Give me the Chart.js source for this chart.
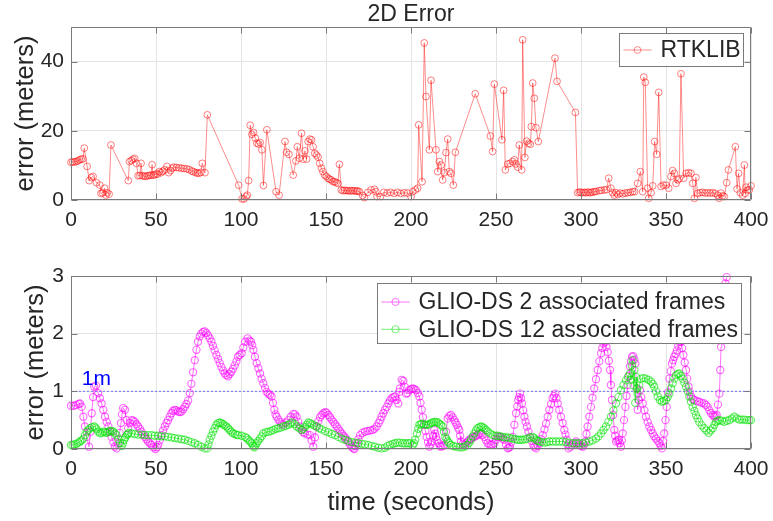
<!DOCTYPE html>
<html>
<head>
<meta charset="utf-8">
<title>2D Error</title>
<script src="https://cdn.jsdelivr.net/npm/chart.js@4.4.1/dist/chart.umd.min.js"></script>
<style>
  html, body { margin: 0; padding: 0; background: #fff; }
  #wrap { position: relative; width: 773px; height: 521px; overflow: hidden; }
  #wrap canvas { position: absolute; left: 0; }
  #errTop { top: 0; }
  #errBottom { top: 230px; }
</style>
</head>
<body>
<div id="wrap">
  <canvas id="errTop" width="773" height="230"></canvas>
  <canvas id="errBottom" width="773" height="291"></canvas>
</div>
<script>
const FONT = '"Liberation Sans", Arial, Helvetica, sans-serif';
const TEXT = '#262626';

// axis ticks
const timeTicks = [0, 50, 100, 150, 200, 250, 300, 350, 400];
const rtkTicks = [0, 20, 40];
const glioTicks = [0, 1, 2, 3];

// 1 m reference line and its label position [time, error]
const oneMeter = 1;
const oneMeterLabelAt = [6.3, 1.11];

// RTKLIB 2D error, [time s, error m]
const rtklib = [
  [0,10.9],[1,11.0],[2,11.0],[3,11.1],[4,11.3],[5,11.6],[6,11.8],[7,11.9],[7.8,15.0],[9.5,9.7],
  [10.7,5.6],[12,6.5],[13,6.8],[15,5.0],[17,4.3],[17.6,1.9],[18.5,2.1],[19.8,3.4],[20.5,1.4],[21.3,2.1],
  [22.4,1.7],[23.5,15.9],[33.7,5.6],[34.4,11.1],[35.5,11.4],[36.5,11.8],[37.5,12.0],[38.5,10.6],[39.5,7.0],[40.5,7.1],
  [41.2,10.6],[42,7.0],[43,6.9],[44,6.8],[45,7.0],[46,7.1],[47,7.2],[47.7,10.2],[48.3,7.1],[49,7.3],
  [50,7.5],[51,7.5],[52,8.2],[53,7.9],[54,8.3],[55,8.7],[56.4,9.7],[57.5,7.9],[58.5,8.5],[59.5,9.2],
  [60.5,9.5],[62,9.4],[63.5,9.3],[65,9.2],[66.5,9.1],[68,9.0],[69.5,8.8],[71,8.4],[72,8.2],[73.3,7.9],
  [74.3,7.8],[75.3,7.7],[76.3,8.0],[77.2,10.6],[78.8,7.9],[80.2,24.6],[98.6,4.3],[100.6,0.3],[101.8,0.3],[103,1.0],
  [103.7,1.4],[104.5,5.6],[105.4,21.6],[106.4,19.0],[107.4,19.5],[108.4,17.9],[109.3,16.4],[110.3,16.2],[111.3,16.6],[112.3,14.5],
  [113.2,4.2],[115.2,20.3],[120.6,2.4],[122.4,1.4],[125.9,16.9],[126.8,13.8],[128.2,13.2],[130.7,7.2],[132.3,11.3],[133.1,15.4],
  [134.3,12.1],[135.6,19.3],[136.6,11.8],[137.6,14.2],[138.6,11.8],[139.5,16.9],[140.5,17.6],[141.5,17.4],[142.4,15.4],[143.4,13.5],
  [144.4,13.0],[145.3,12.4],[146.3,10.6],[147.3,9.2],[148.2,8.2],[149.2,7.2],[150.2,6.8],[151.2,6.3],[152.1,6.0],[153.1,5.8],
  [154.1,5.3],[155.1,5.3],[156,5.0],[157,4.8],[157.9,10.3],[159,2.9],[160,2.7],[161,2.8],[162,2.7],[163,2.7],
  [164,2.6],[165,2.7],[166,2.7],[167,2.6],[168,2.6],[168.7,2.6],[169.7,2.4],[171.6,1.3],[172.6,0.7],[174.6,2.2],
  [176.5,2.9],[178.5,3.1],[179.3,2.4],[180,1.0],[182,1.0],[184,2.2],[186,2.0],[188,2.2],[190,1.9],[192,2.2],
  [194,1.9],[196,2.1],[198,2.0],[200,1.0],[201,2.4],[202.5,2.9],[203.9,3.4],[204.5,21.7],[206.5,5.3],[207.8,45.4],
  [208.8,29.9],[210.8,14.5],[211.8,34.6],[214.7,14.5],[215.7,8.2],[216.7,11.1],[217.7,10.1],[218.6,5.8],[219.6,7.9],[220.6,13.7],
  [221.6,17.6],[222.5,8.2],[223.5,7.7],[224.9,4.3],[226.1,13.8],[237.8,30.7],[246.7,18.5],[248,14.0],[249,33.5],[253.5,17.4],
  [254.5,31.7],[255.5,8.7],[256.9,10.4],[258.3,10.6],[259.8,11.1],[260.8,11.6],[261.8,10.4],[262.7,9.5],[263.7,15.9],[265.1,8.7],
  [265.7,46.3],[267,12.3],[268,17.0],[269.2,16.4],[270.2,16.1],[270.8,21.2],[271.6,33.8],[272.5,29.4],[273.5,20.9],[274.9,16.9],
  [284.7,41.0],[285.9,34.3],[296.7,25.3],[298,2.1],[299,2.3],[300,2.2],[301,2.1],[302,2.2],[303,2.1],[304,2.3],
  [305,2.1],[306,2.2],[307,2.3],[308,2.4],[309,2.5],[310.8,2.7],[312,2.8],[313.7,2.9],[315,3.0],[316.3,6.3],
  [317.6,3.4],[318.6,2.1],[319.6,1.4],[320.6,2.1],[321.6,1.6],[323,2.0],[324.5,1.8],[326,2.0],[327.5,2.1],[329,2.2],
  [330.4,2.4],[331.5,2.4],[333.3,4.8],[334.9,8.2],[336.3,2.4],[336.9,35.5],[337.8,34.0],[339.2,3.4],[339.8,0.5],[341.2,2.1],
  [342.2,4.1],[343.3,16.9],[344.5,13.2],[345.7,31.1],[347.1,3.9],[348.4,4.3],[350,4.3],[351.6,3.4],[352.9,6.8],[353.9,8.5],
  [354.9,7.7],[355.9,4.8],[356.9,5.8],[357.8,6.1],[358.8,36.5],[360.4,6.3],[361.8,7.7],[363.3,7.9],[364.7,7.7],[365.7,4.8],
  [366.7,0.5],[367.6,6.5],[368.6,1.9],[370,2.1],[371.5,2.2],[373,2.0],[374.5,2.1],[376,2.0],[377.5,2.1],[379,1.9],
  [380.4,1.4],[381.3,0.5],[382.3,2.0],[383.3,1.2],[384.3,1.0],[385.7,5.0],[386.7,8.7],[390.8,15.4],[391.8,3.2],[392.7,7.7],
  [393.7,2.1],[395.1,1.4],[396.1,10.1],[396.6,1.9],[397.1,3.7],[398,2.9],[399,2.9],[400,4.1]
];

// GLIO-DS, 2 associated frames
const glio2 = [
  [0,0.75],[1.5,0.75],[3,0.76],[4.5,0.78],[5.3,0.79],[6.3,0.73],[7.3,0.56],[8.2,0.39],[9.2,0.21],[10.6,0.04],
  [11.4,0.3],[12.2,0.62],[13,0.9],[13.7,1.08],[14.7,1.1],[16,0.97],[17,0.88],[18,0.79],[19,0.68],[20,0.56],
  [21,0.47],[22,0.39],[23,0.3],[23.9,0.21],[24.9,0.12],[25.8,0.04],[26.8,0.01],[27.8,0.1],[28.6,0.28],[29.4,0.45],
  [30,0.6],[30.7,0.71],[31.7,0.68],[32.7,0.5],[33.6,0.36],[34.6,0.45],[35.6,0.5],[36.6,0.49],[37.6,0.47],[38.5,0.43],
  [39.5,0.39],[40.5,0.35],[41.5,0.3],[42.5,0.25],[43.4,0.21],[44.4,0.17],[45.4,0.13],[46.4,0.1],[47.4,0.07],[48.5,0.03],
  [49.7,0.0],[50.5,0.03],[51.3,0.07],[52.2,0.15],[53.2,0.24],[54.2,0.32],[55.2,0.39],[56.2,0.45],[57.1,0.5],[58.1,0.56],
  [59.1,0.62],[60,0.66],[61,0.68],[62,0.67],[63,0.65],[64,0.64],[65,0.65],[66,0.69],[66.9,0.73],[67.9,0.78],
  [68.9,0.84],[69.9,0.97],[70.8,1.13],[71.8,1.33],[72.8,1.54],[73.8,1.72],[74.7,1.86],[75.7,1.95],[76.7,2.0],[77.7,2.03],
  [78.7,2.04],[79.7,2.01],[80.6,1.97],[81.6,1.92],[82.6,1.86],[83.5,1.79],[84.5,1.71],[85.5,1.63],[86.5,1.56],[87.5,1.49],
  [88.5,1.42],[89.5,1.36],[90.4,1.31],[91.4,1.28],[92.4,1.26],[93.3,1.3],[94.3,1.34],[95.3,1.39],[96.3,1.45],[97.3,1.52],
  [98.2,1.6],[99.2,1.63],[100.4,1.66],[101.4,1.76],[102.4,1.86],[103.9,1.92],[104.9,1.88],[105.9,1.86],[106.6,1.8],[107.3,1.72],
  [108.2,1.6],[109.2,1.49],[110.2,1.4],[111.2,1.31],[112.1,1.22],[113.1,1.14],[114.1,1.06],[115.1,0.99],[116,0.96],[117,0.94],
  [118,0.91],[118.8,0.8],[119.6,0.68],[120.3,0.6],[121,0.56],[122,0.51],[123,0.47],[124,0.44],[124.9,0.42],[126.3,0.46],
  [127.8,0.5],[129.3,0.56],[130.8,0.61],[131.7,0.6],[132.7,0.56],[133.7,0.47],[134.7,0.39],[135.7,0.33],[136.6,0.29],[137.6,0.27],
  [139.1,0.25],[140.6,0.24],[141.5,0.15],[142.5,0.04],[143.5,0.2],[144.5,0.39],[145.5,0.48],[146.5,0.55],[147.5,0.59],[148.5,0.62],
  [149.5,0.64],[150.4,0.63],[151.4,0.59],[152.3,0.55],[153.3,0.51],[154.3,0.47],[155.3,0.43],[156.3,0.39],[157.3,0.35],[158.2,0.31],
  [159.2,0.27],[160.2,0.23],[161.2,0.2],[162.2,0.16],[163.2,0.12],[164.1,0.08],[165.1,0.04],[166,0.01],[166.7,0.0],[167.4,0.05],
  [168,0.1],[169,0.17],[170,0.24],[171.4,0.28],[172.9,0.3],[174.4,0.31],[175.9,0.32],[177.4,0.33],[178.5,0.35],[179.8,0.39],
  [181,0.45],[181.9,0.5],[182.7,0.56],[183.7,0.62],[184.7,0.68],[185.7,0.73],[186.7,0.79],[187.6,0.84],[188.6,0.88],[189.6,0.9],
  [190.6,0.91],[191.5,0.85],[192.5,0.79],[193.1,0.99],[193.5,1.05],[194.5,1.2],[195.5,1.18],[196.3,1.08],[197.1,0.96],[198,0.97],
  [199,1.02],[200,1.04],[201,1.05],[202,1.04],[202.9,1.02],[204,0.97],[204.9,0.91],[205.6,0.8],[206.3,0.68],[207,0.55],
  [207.8,0.42],[208.5,0.31],[209.2,0.21],[210,0.12],[210.8,0.04],[211.5,0.08],[212.2,0.13],[213,0.23],[213.7,0.33],[214.2,0.27],
  [214.7,0.21],[215.5,0.15],[216.3,0.1],[217,0.06],[217.6,0.04],[218.6,0.05],[219.6,0.07],[220.6,0.3],[221.6,0.53],[222.5,0.57],
  [223.5,0.59],[224.5,0.55],[225.5,0.5],[226.2,0.46],[226.9,0.42],[227.7,0.37],[228.4,0.33],[228.9,0.23],[229.4,0.13],[230.4,0.09],
  [231.4,0.07],[232.3,0.1],[233.3,0.13],[234.3,0.16],[235.3,0.18],[236.3,0.2],[237.3,0.21],[238.2,0.23],[239.2,0.24],[240.2,0.26],
  [241.2,0.27],[242.1,0.24],[243.1,0.21],[244.1,0.15],[245.1,0.1],[246.1,0.08],[247.1,0.07],[248,0.08],[249,0.1],[250,0.16],
  [251,0.21],[252,0.21],[252.9,0.21],[253.9,0.18],[254.9,0.16],[255.9,0.08],[256.9,0.01],[257.5,0.02],[258.2,0.04],[259,0.12],
  [259.8,0.21],[260.8,0.42],[261.8,0.62],[262.5,0.74],[263.1,0.85],[263.6,0.9],[264.1,0.96],[264.7,0.88],[265.3,0.79],[266,0.67],
  [266.7,0.56],[267.4,0.47],[268.2,0.39],[269.1,0.3],[270,0.21],[271,0.14],[272,0.07],[272.7,0.04],[273.5,0.01],[274.5,0.05],
  [275.5,0.1],[276.5,0.17],[277.5,0.24],[278.5,0.34],[279.4,0.44],[280.4,0.56],[281.4,0.68],[282.4,0.78],[283.3,0.88],[284.1,0.92],
  [284.9,0.96],[285.6,0.88],[286.3,0.79],[287.2,0.68],[288.2,0.56],[289.2,0.45],[290.2,0.33],[290.9,0.25],[291.6,0.16],[292.2,0.08],
  [292.7,0.01],[293.7,0.04],[294.7,0.07],[295.9,0.1],[297.1,0.13],[298,0.1],[299,0.07],[300,0.05],[301,0.04],[301.8,0.08],
  [302.5,0.13],[303.2,0.26],[303.9,0.39],[304.9,0.56],[305.9,0.73],[306.8,0.89],[307.8,1.05],[308.8,1.21],[309.8,1.37],[310.8,1.52],
  [311.8,1.66],[312.5,1.75],[313.1,1.83],[314.3,1.86],[315,1.77],[315.7,1.68],[316.4,1.53],[317.1,1.37],[317.6,1.11],[318.2,0.85],
  [318.9,0.59],[319.6,0.33],[320.1,0.23],[320.6,0.13],[321.4,0.15],[322.2,0.16],[322.9,0.1],[323.5,0.04],[324,0.15],[324.5,0.27],
  [325.3,0.5],[326.1,0.73],[326.8,0.92],[327.5,1.11],[328.2,1.27],[328.8,1.43],[329.4,1.52],[330,1.6],[330.8,1.61],[331.4,1.55],
  [332,1.48],[332.7,1.05],[333.3,0.68],[334,0.85],[334.7,1.02],[335.5,0.9],[336.3,0.79],[337.3,0.67],[338.2,0.56],[339.2,0.47],
  [340.2,0.39],[341.2,0.33],[342.2,0.27],[343.1,0.22],[344.1,0.18],[345.1,0.14],[346.1,0.1],[346.9,0.05],[347.6,0.01],[348.3,0.14],
  [349,0.27],[349.7,0.5],[350.4,0.73],[351.2,0.98],[352,1.22],[352.8,1.35],[353.5,1.48],[354.2,1.54],[354.9,1.6],[355.7,1.65],
  [356.5,1.71],[357.2,1.79],[357.8,1.86],[358.8,1.86],[359.5,1.75],[360.2,1.63],[361,1.5],[361.8,1.37],[362.5,1.22],[363.3,1.08],
  [364,0.99],[364.7,0.91],[365.7,0.87],[366.7,0.85],[368.2,0.83],[369.6,0.82],[371,0.8],[372.5,0.79],[373.5,0.76],[374.5,0.73],
  [375.5,0.67],[376.5,0.62],[377.5,0.59],[378.4,0.56],[379.1,0.57],[379.8,0.59],[380.6,0.77],[381.4,0.96],[381.9,1.37],[382.4,1.77],
  [382.8,2.1],[383.3,2.41],[383.8,2.6],[384.3,2.75],[385,2.87],[385.7,2.98]
];

// GLIO-DS, 12 associated frames
const glio12 = [
  [0,0.07],[1,0.07],[2,0.08],[3.3,0.09],[4.3,0.11],[5.3,0.13],[6.3,0.15],[7.3,0.18],[8.2,0.24],[9.2,0.3],
  [10.2,0.33],[11.2,0.36],[12.4,0.38],[13.7,0.39],[14.4,0.37],[15.1,0.34],[16.1,0.3],[17.1,0.27],[18,0.28],[19,0.3],
  [20,0.29],[21,0.28],[22,0.3],[23,0.32],[24,0.31],[24.9,0.3],[25.9,0.27],[26.8,0.24],[27.8,0.17],[28.8,0.1],
  [29.8,0.05],[30.5,0.1],[31.3,0.16],[32,0.2],[32.7,0.24],[33.4,0.26],[34,0.28],[35.6,0.27],[37.5,0.26],[39.5,0.25],
  [41.5,0.25],[43.4,0.24],[45.4,0.24],[47.4,0.24],[49.3,0.23],[51.3,0.23],[53.2,0.22],[55.2,0.22],[57.1,0.21],[59.1,0.2],
  [61,0.19],[63,0.18],[65,0.17],[66.9,0.16],[68.9,0.14],[70.8,0.12],[72.8,0.1],[74.7,0.07],[76.7,0.04],[78.7,0.01],
  [80.2,0.01],[80.9,0.08],[81.6,0.16],[82.6,0.23],[83.5,0.3],[84.5,0.36],[85.5,0.42],[86.5,0.45],[87.5,0.46],[88.5,0.45],
  [89.4,0.43],[90.4,0.41],[91.4,0.39],[92.4,0.36],[93.3,0.33],[94.3,0.3],[95.3,0.27],[96.5,0.26],[97.5,0.24],[98.4,0.24],
  [100.4,0.23],[102.4,0.21],[103.3,0.19],[104.3,0.16],[105.3,0.13],[106.3,0.1],[107,0.06],[107.8,0.03],[108.5,0.06],[109.2,0.1],
  [110.2,0.14],[111.2,0.18],[112.2,0.22],[113.1,0.27],[114.6,0.29],[116.1,0.3],[117.6,0.31],[119,0.33],[120.5,0.35],[121.9,0.36],
  [123.4,0.37],[124.9,0.39],[126.4,0.4],[127.8,0.42],[129,0.44],[130.2,0.46],[131.5,0.43],[132.7,0.39],[134.2,0.36],[135.7,0.33],
  [136.6,0.35],[137.6,0.38],[138.6,0.42],[139.6,0.46],[140.6,0.45],[141.6,0.43],[143,0.41],[144.5,0.39],[146,0.36],[147.5,0.34],
  [149.5,0.31],[151.4,0.29],[153.4,0.26],[155.3,0.24],[157.3,0.21],[159.2,0.18],[161.2,0.16],[163.1,0.14],[165.1,0.12],[167.1,0.11],
  [169,0.1],[171,0.09],[172.9,0.08],[174.9,0.07],[176.9,0.05],[178.8,0.04],[180.8,0.02],[182.7,0.01],[184.7,0.02],[186.1,0.05],
  [187.6,0.07],[189.2,0.09],[190.6,0.1],[192,0.11],[193.5,0.11],[195,0.1],[196.5,0.1],[198,0.1],[199.4,0.1],[201,0.07],
  [201.8,0.1],[202.5,0.16],[203.5,0.27],[204.2,0.35],[204.9,0.42],[205.7,0.43],[206.5,0.44],[207.6,0.43],[208.8,0.42],[209.8,0.42],
  [210.8,0.43],[211.8,0.45],[212.7,0.46],[213.7,0.47],[214.7,0.47],[215.7,0.46],[216.7,0.44],[217.6,0.42],[218.6,0.39],[219.4,0.3],
  [220.2,0.21],[220.9,0.17],[221.6,0.13],[222.5,0.1],[223.5,0.07],[225,0.05],[226.5,0.04],[228.5,0.03],[230.4,0.03],[231.9,0.05],
  [233.3,0.07],[234.3,0.11],[235.3,0.16],[236.3,0.22],[237.3,0.27],[238.2,0.32],[239.2,0.36],[240.2,0.38],[241.2,0.39],[242.1,0.38],
  [243.1,0.36],[244.1,0.33],[245.1,0.3],[246.6,0.27],[248,0.24],[249.5,0.23],[251,0.23],[252.5,0.22],[253.9,0.21],[255.4,0.2],
  [256.9,0.2],[258.3,0.19],[259.8,0.18],[261.3,0.17],[262.7,0.16],[264.2,0.16],[265.7,0.16],[267.2,0.17],[268.6,0.18],[270.1,0.2],
  [271.6,0.21],[272.5,0.19],[273.5,0.16],[274.5,0.14],[275.5,0.13],[277,0.12],[278.4,0.11],[279.9,0.12],[281.4,0.13],[283.3,0.13],
  [285.3,0.13],[287.2,0.13],[289.2,0.13],[291.2,0.12],[293.1,0.11],[295.1,0.1],[297.1,0.1],[299,0.1],[301,0.1],[302.9,0.11],
  [304.9,0.13],[306.8,0.15],[308.8,0.18],[310.3,0.22],[311.8,0.27],[313.2,0.33],[314.7,0.39],[316.1,0.47],[317.6,0.56],[319.1,0.67],
  [320.6,0.79],[322,0.9],[323.5,1.02],[325,1.11],[326.5,1.19],[327.6,1.25],[328.8,1.31],[329.4,1.2],[329.8,1.45],[330.4,1.54],
  [330.9,1.1],[331.4,1.37],[331.9,0.8],[332.4,1.25],[332.9,1.05],[333.3,0.96],[334.3,1.1],[335.3,1.22],[336.8,1.23],[338.2,1.22],
  [339.7,1.2],[341.2,1.17],[342.2,1.13],[343.1,1.08],[344.1,1.0],[345.1,0.91],[346.4,0.85],[347.6,0.82],[348.8,0.83],[350,0.85],
  [351,0.9],[352,0.96],[353,1.05],[353.9,1.14],[354.9,1.22],[355.9,1.28],[356.9,1.3],[357.8,1.31],[358.8,1.27],[359.8,1.22],
  [360.8,1.15],[361.8,1.08],[362.8,1.0],[363.7,0.91],[364.7,0.82],[365.7,0.73],[366.7,0.66],[367.6,0.59],[368.6,0.53],[369.6,0.47],
  [371,0.41],[372.5,0.36],[373.8,0.32],[375.1,0.28],[376.3,0.32],[377.5,0.36],[378.5,0.42],[379.4,0.47],[380.4,0.49],[381.4,0.5],
  [382.9,0.49],[384.3,0.47],[385.8,0.49],[387.3,0.5],[388.7,0.53],[390.2,0.56],[391.7,0.53],[393.1,0.51],[394.6,0.51],[396.1,0.51],
  [397.5,0.5],[399,0.5],[400,0.5]
];

function toPoints(rows) {
    return rows.map(r => ({ x: r[0], y: r[1] }));
}

// box round the axes with small inward tick marks
const axesBox = {
    id: 'axesBox',
    afterDatasetsDraw(chart) {
        const { ctx, chartArea: a, scales } = chart;
        const L = Math.round(a.left) + 0.5, R = Math.round(a.right) - 0.5;
        const T = Math.round(a.top) + 0.5, B = Math.round(a.bottom) - 0.5;
        ctx.save();
        ctx.strokeStyle = '#7a7a7a';
        ctx.lineWidth = 1;
        ctx.beginPath();
        scales.x.ticks.forEach(t => {
            const px = Math.round(scales.x.getPixelForValue(t.value)) + 0.5;
            ctx.moveTo(px, B); ctx.lineTo(px, B - 6);
            ctx.moveTo(px, T); ctx.lineTo(px, T + 6);
        });
        scales.y.ticks.forEach(t => {
            const py = Math.round(scales.y.getPixelForValue(t.value)) + 0.5;
            ctx.moveTo(L, py); ctx.lineTo(L + 6, py);
            ctx.moveTo(R, py); ctx.lineTo(R - 6, py);
        });
        ctx.rect(L, T, R - L, B - T);
        ctx.stroke();
        ctx.restore();
    }
};

// axes title, centred over the plot area
const axesTitle = {
    id: 'axesTitle',
    afterDraw(chart, args, opts) {
        const { ctx, chartArea: a } = chart;
        ctx.save();
        ctx.font = '23px ' + FONT;
        ctx.fillStyle = TEXT;
        ctx.textAlign = 'center';
        ctx.textBaseline = 'middle';
        ctx.fillText(opts.text, (a.left + a.right) / 2, opts.y);
        ctx.restore();
    }
};

// legend box: line + marker sample, label on the right
const boxLegend = {
    id: 'boxLegend',
    afterDraw(chart, args, opts) {
        const { ctx, chartArea: a } = chart;
        const sets = chart.data.datasets.filter(d => d.label);
        ctx.save();
        ctx.font = '23px ' + FONT;
        const textW = Math.max(...sets.map(d => ctx.measureText(d.label).width));
        const w = Math.round(41 + textW + 3);
        const x0 = Math.round(a.right - opts.right - w) + 0.5;
        const y0 = Math.round(a.top + opts.top) + 0.5;
        ctx.fillStyle = '#fff';
        ctx.fillRect(x0, y0, w, opts.height);
        ctx.strokeStyle = '#7a7a7a';
        ctx.lineWidth = 1;
        ctx.strokeRect(x0, y0, w, opts.height);
        sets.forEach((d, i) => {
            const cy = y0 + opts.firstRow + i * opts.rowHeight;
            ctx.strokeStyle = d.borderColor;
            ctx.lineWidth = 1;
            ctx.beginPath();
            ctx.moveTo(x0 + 4, cy);
            ctx.lineTo(x0 + 32, cy);
            ctx.stroke();
            ctx.beginPath();
            ctx.arc(x0 + 18, cy, d.pointRadius, 0, Math.PI * 2);
            ctx.stroke();
            ctx.fillStyle = TEXT;
            ctx.textBaseline = 'middle';
            ctx.fillText(d.label, x0 + 41, cy + 1);
        });
        ctx.restore();
    }
};

const oneMeterText = {
    id: 'oneMeterText',
    afterDatasetsDraw(chart) {
        const { ctx, scales } = chart;
        ctx.save();
        ctx.font = '21px ' + FONT;
        ctx.fillStyle = '#0000ff';
        ctx.textBaseline = 'alphabetic';
        ctx.fillText('1m', scales.x.getPixelForValue(oneMeterLabelAt[0]), scales.y.getPixelForValue(oneMeterLabelAt[1]));
        ctx.restore();
    }
};

function timeAxis(height, title) {
    return {
        type: 'linear',
        min: 0,
        max: 400,
        afterBuildTicks: s => { s.ticks = timeTicks.map(v => ({ value: v })); },
        afterFit: s => { s.height = height; s.paddingLeft = 0; s.paddingRight = 0; },
        ticks: { font: { family: FONT, size: 21 }, color: TEXT, padding: 8, autoSkip: false, maxRotation: 0 },
        grid: { color: '#e4e4e4', drawTicks: false },
        border: { display: false },
        title: title ? { display: true, text: title, font: { family: FONT, size: 25.5 }, color: TEXT, padding: { top: 0, bottom: 2.7 } }
                     : { display: false }
    };
}

function errorAxis(ticks, max, titlePad) {
    return {
        type: 'linear',
        min: 0,
        max: max,
        afterBuildTicks: s => { s.ticks = ticks.map(v => ({ value: v })); },
        afterFit: s => { s.width = 71; s.paddingTop = 0; s.paddingBottom = 0; },
        ticks: { font: { family: FONT, size: 21 }, color: TEXT, padding: 7 },
        grid: { color: '#e4e4e4', drawTicks: false },
        border: { display: false },
        title: { display: true, text: 'error (meters)', font: { family: FONT, size: 25.5 }, color: TEXT, padding: { top: titlePad, bottom: 0 } }
    };
}

const common = {
    responsive: false,
    animation: false,
    devicePixelRatio: 1,
    events: []
};

new Chart(document.getElementById('errTop'), {
    type: 'line',
    data: {
        datasets: [{
            label: 'RTKLIB',
            data: toPoints(rtklib),
            borderColor: 'rgba(255,0,0,0.45)',
            borderWidth: 1,
            pointStyle: 'circle',
            pointRadius: 3.4,
            pointBorderWidth: 1,
            pointBorderColor: 'rgba(255,0,0,0.5)',
            pointBackgroundColor: 'rgba(0,0,0,0)',
            tension: 0,
            clip: false
        }]
    },
    options: {
        ...common,
        layout: { padding: { top: 27, right: 22, left: 0, bottom: 0 } },
        scales: {
            x: timeAxis(30, null),
            y: errorAxis(rtkTicks, 50, 10.7)
        },
        plugins: {
            legend: { display: false },
            tooltip: { enabled: false },
            axesTitle: { text: '2D Error', y: 14.5 },
            boxLegend: { right: 8, top: 6, height: 33, firstRow: 16.5, rowHeight: 0 }
        }
    },
    plugins: [axesBox, axesTitle, boxLegend]
});

new Chart(document.getElementById('errBottom'), {
    type: 'line',
    data: {
        datasets: [{
            label: 'GLIO-DS 2 associated frames',
            data: toPoints(glio2),
            order: 1,
            borderColor: 'rgba(255,0,255,0.55)',
            borderWidth: 1,
            pointRadius: 3.6,
            pointBorderWidth: 1.1,
            pointBorderColor: 'rgba(255,0,255,0.6)',
            pointBackgroundColor: 'rgba(0,0,0,0)',
            clip: false
        }, {
            label: 'GLIO-DS 12 associated frames',
            data: toPoints(glio12),
            order: 0,
            borderColor: 'rgba(0,225,0,0.55)',
            borderWidth: 1,
            pointRadius: 3.6,
            pointBorderWidth: 1.1,
            pointBorderColor: 'rgba(0,225,0,0.6)',
            pointBackgroundColor: 'rgba(0,0,0,0)',
            clip: false
        }, {
            data: [{ x: 0, y: oneMeter }, { x: 400, y: oneMeter }],
            order: 2,
            borderColor: 'rgba(60,60,255,0.7)',
            borderWidth: 1,
            borderDash: [2, 2],
            pointRadius: 0
        }]
    },
    options: {
        ...common,
        layout: { padding: { top: 46, right: 22, left: 0, bottom: 0 } },
        scales: {
            x: timeAxis(72, 'time (seconds)'),
            y: errorAxis(glioTicks, 3, 20.7)
        },
        plugins: {
            legend: { display: false },
            tooltip: { enabled: false },
            boxLegend: { right: 10, top: 7, height: 60, firstRow: 18.5, rowHeight: 27.3 }
        }
    },
    plugins: [axesBox, oneMeterText, boxLegend]
});
</script>
</body>
</html>
